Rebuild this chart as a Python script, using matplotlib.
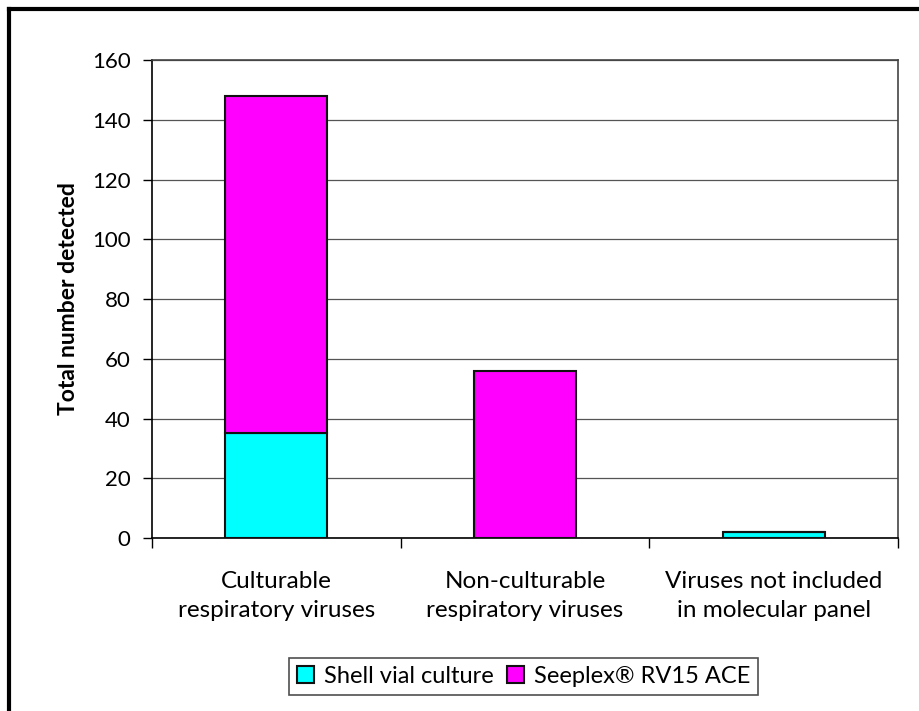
import numpy as np
import matplotlib.pyplot as plt
from matplotlib.lines import Line2D

categories = ["Culturable\nrespiratory viruses",
              "Non-culturable\nrespiratory viruses",
              "Viruses not included\nin molecular panel"]
shell_vial = [35, 0, 2]
seeplex = [113, 56, 0]
series_names = ["Shell vial culture", "Seeplex® RV15 ACE"]

plt.rcParams['font.family'] = ['Lato', 'DejaVu Sans']

fig = plt.figure(figsize=(9.2, 7.11), dpi=100)
ax = fig.add_axes([0.1652, 0.2433, 0.8108, 0.6723])

x = np.arange(len(categories))
w = 0.41
ax.bar(x, shell_vial, w, color='#00ffff', edgecolor='#111111', linewidth=1.5,
       label=series_names[0], zorder=3)
ax.bar(x, seeplex, w, bottom=shell_vial, color='#ff00ff', edgecolor='#111111',
       linewidth=1.5, label=series_names[1], zorder=3)

ax.set_xlim(-0.5, 2.5)
ax.set_ylim(0, 160)
ax.set_yticks(np.arange(0, 161, 20))
ax.yaxis.grid(True, color='#555555', linewidth=0.9, zorder=0)
ax.tick_params(axis='y', labelsize=16, length=6.5, width=1, pad=9)

ax.set_xticks(x)
ax.set_xticklabels(categories, fontsize=17.5, linespacing=1.45)
ax.tick_params(axis='x', which='major', length=0, pad=24)
ax.set_xticks([-0.5, 0.5, 1.5, 2.5], minor=True)
ax.tick_params(axis='x', which='minor', length=7, width=1, direction='out')

for s in ['left', 'bottom']:
    ax.spines[s].set_color('black')
    ax.spines[s].set_linewidth(1.2)
for s in ['top', 'right']:
    ax.spines[s].set_color('#444444')
    ax.spines[s].set_linewidth(1.2)

ax.set_ylabel("Total number detected", fontsize=16.5, fontweight='bold', labelpad=9)

leg = fig.legend(loc='center', bbox_to_anchor=(0.569, 0.0485), ncol=2, fontsize=17,
                 frameon=True, fancybox=False, edgecolor='#222222',
                 handlelength=0.75, handleheight=0.75, handletextpad=0.4,
                 columnspacing=0.55, borderpad=0.35, borderaxespad=0)
leg.get_frame().set_linewidth(1.2)

# outer chart border (top and left visible)
fig.add_artist(Line2D([9 / 920, 1], [1 - 9 / 711, 1 - 9 / 711], color='black',
                      linewidth=3, transform=fig.transFigure))
fig.add_artist(Line2D([9 / 920, 9 / 920], [0, 1 - 9 / 711], color='black',
                      linewidth=3, transform=fig.transFigure))

fig.savefig("out.png", dpi=100)
